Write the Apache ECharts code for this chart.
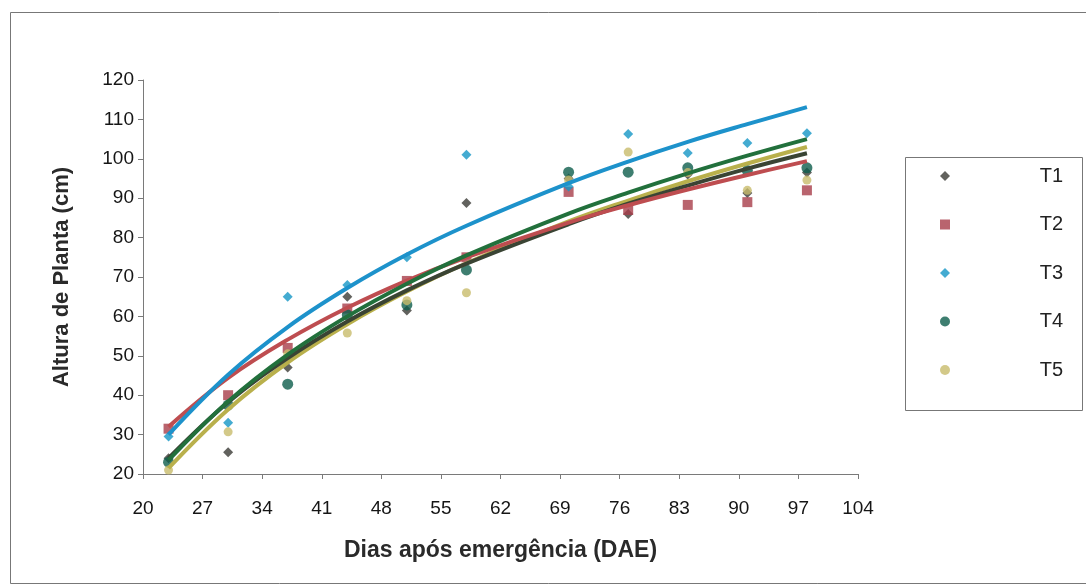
<!DOCTYPE html>
<html>
<head>
<meta charset="utf-8">
<script src="https://cdn.jsdelivr.net/npm/echarts@6/dist/echarts.min.js"></script>
<style>
html,body{margin:0;padding:0;background:#fff;}
#c{width:1086px;height:588px;}
</style>
</head>
<body>
<div id="c"></div>
<script>
// Days after emergence (x values of the observations)
const days = [23, 30, 37, 44, 51, 58, 70, 77, 84, 91, 98];
// Observed plant heights (cm)
const t1 = [24, 25.5, 47, 65, 61.5, 88.8, 95, 86, 96, 91.3, 96.5];
const t2 = [31.5, 40, 52, 62, 69, 75, 91.6, 87, 88.3, 89, 92];
const t3 = [29.5, 33, 65, 68, 75, 101, 93, 106.3, 101.5, 104, 106.5];
const t4 = [23, 37.5, 42.8, 60.4, 62.9, 71.8, 96.6, 96.6, 97.7, 97, 97.7];
const t5 = [21, 30.7, 50.5, 55.8, 64, 66, 94.6, 101.7, 96.5, 92, 94.6];
// Trend lines at the same days
const t1Trend = [24, 38.2, 49.4, 58.7, 66.6, 73.4, 83.4, 88.6, 93.2, 97.5, 101.4];
const t2Trend = [32, 44.4, 54.1, 62.2, 69.1, 75.0, 83.8, 88.2, 92.2, 95.9, 99.4];
const t3Trend = [30, 45.2, 57.3, 67.2, 75.7, 83.0, 93.8, 99.3, 104.3, 108.8, 113.1];
const t4Trend = [23.5, 38.4, 50.3, 60.0, 68.3, 75.5, 86.1, 91.4, 96.3, 100.8, 105.0];
const t5Trend = [21.5, 36.4, 48.3, 58.0, 66.3, 73.5, 84.1, 89.4, 94.3, 98.8, 103.0];
// Axis tick labels
const xTicks = [20, 27, 34, 41, 48, 55, 62, 69, 76, 83, 90, 97, 104];
const seriesNames = ['T1', 'T2', 'T3', 'T4', 'T5'];

const pts = arr => days.map((d, i) => [d, arr[i]]);
const FONT = 'Liberation Sans, Arial, sans-serif';

const markerStyle = [
  {name: 'T1', data: t1, symbol: 'diamond', size: 10, color: '#3b3b36'},
  {name: 'T2', data: t2, symbol: 'rect', size: 10, color: '#a83d4a'},
  {name: 'T3', data: t3, symbol: 'diamond', size: 10, color: '#1596c6'},
  {name: 'T4', data: t4, symbol: 'circle', size: 11, color: '#0e5e4c'},
  {name: 'T5', data: t5, symbol: 'circle', size: 9, color: '#c8bb6c'}
];
const trendStyle = [
  {data: t5Trend, color: '#b9b04c'},
  {data: t1Trend, color: '#3a4434'},
  {data: t2Trend, color: '#be4d50'},
  {data: t4Trend, color: '#22703c'},
  {data: t3Trend, color: '#1d92cb'}
];

const series = [];
markerStyle.forEach(m => {
  series.push({
    name: m.name, type: 'scatter', data: pts(m.data),
    symbol: m.symbol, symbolSize: m.size,
    itemStyle: {color: m.color}, z: 2, silent: true
  });
});
trendStyle.forEach((t, k) => {
  series.push({
    name: 'trend' + k, type: 'line', data: pts(t.data),
    smooth: 0.4, showSymbol: false, symbol: 'none',
    lineStyle: {color: t.color, width: 4}, z: 3, silent: true
  });
});

const chart = echarts.init(document.getElementById('c'), null, {renderer: 'canvas'});
chart.setOption({
  animation: false,
  backgroundColor: '#fff',
  grid: {left: 143, right: 228, top: 80, bottom: 114, containLabel: false},
  xAxis: {
    type: 'value', min: 20, max: 104,
    name: 'Dias após emergência (DAE)', nameLocation: 'middle', nameGap: 65,
    nameTextStyle: {fontFamily: FONT, fontWeight: 'bold', fontSize: 23, color: '#2a2a2a'},
    axisLine: {lineStyle: {color: '#7a7a7a', width: 1}},
    axisTick: {show: true, length: 5, lineStyle: {color: '#7a7a7a'}, customValues: xTicks},
    axisLabel: {customValues: xTicks, fontFamily: FONT, fontSize: 19, color: '#151515', margin: 25},
    splitLine: {show: false}
  },
  yAxis: {
    type: 'value', min: 20, max: 120, interval: 10,
    name: 'Altura de Planta (cm)', nameLocation: 'middle', nameGap: 70, nameRotate: 90,
    nameTextStyle: {fontFamily: FONT, fontWeight: 'bold', fontSize: 22, color: '#2a2a2a'},
    axisLine: {show: true, lineStyle: {color: '#7a7a7a', width: 1}},
    axisTick: {show: true, length: 5, lineStyle: {color: '#7a7a7a'}},
    axisLabel: {fontFamily: FONT, fontSize: 19, color: '#151515', margin: 9},
    splitLine: {show: false}
  },
  legend: {
    data: seriesNames.map(n => ({name: n})),
    orient: 'vertical', left: 935, top: 161,
    itemWidth: 10, itemHeight: 10, itemGap: 28.5,
    formatter: n => '{a|' + n + '}',
    textStyle: {
      rich: {a: {width: 108, height: 22, align: 'right', fontFamily: FONT, fontSize: 20, color: '#222'}}
    },
    selectedMode: false
  },
  graphic: [
    {type: 'rect', shape: {x: 10.5, y: 12.5, width: 1100, height: 571}, style: {fill: 'none', stroke: '#777', lineWidth: 1}, silent: true},
    {type: 'rect', shape: {x: 905.5, y: 157.5, width: 177, height: 253}, style: {fill: 'none', stroke: '#777', lineWidth: 1}, silent: true}
  ],
  series: series
});
</script>
</body>
</html>
